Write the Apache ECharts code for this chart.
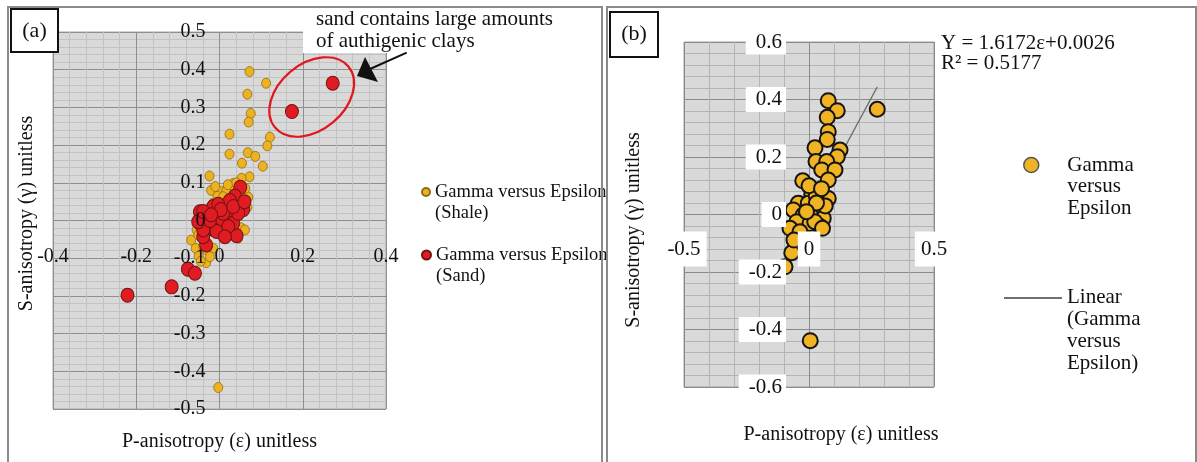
<!DOCTYPE html>
<html><head><meta charset="utf-8">
<script src="https://cdn.jsdelivr.net/npm/echarts@6/dist/echarts.min.js"></script>
<style>html,body{margin:0;padding:0;background:#fff}#c{width:1197px;height:462px}</style>
</head><body><div id="c"></div>
<script>
// ---- Panel (a) data ----
const shaleEps = [0.072,0.112,0.067,0.075,0.070,0.024,0.121,0.115,0.024,0.068,0.086,0.054,0.104,-0.024,0.072,0.053,0.069,-0.020,0.033,0.029,0.005,-0.005,0.016,0.051,-0.068,-0.057,-0.050,-0.032,-0.045,-0.003,0.033,0.045,-0.015,-0.055,-0.039,0.067,-0.015,0.045,0.061,0.009,0.040,0.062,-0.010,0.020,-0.051,-0.031,-0.023];
const shaleGam = [0.395,0.364,0.335,0.284,0.261,0.229,0.221,0.198,0.176,0.180,0.170,0.152,0.144,0.118,0.116,0.112,0.062,0.080,0.098,0.088,0.077,0.064,0.077,-0.019,-0.052,-0.074,-0.095,-0.112,-0.108,-0.443,0.061,0.053,0.046,-0.025,-0.068,0.035,-0.074,-0.047,-0.025,0.063,0.100,0.085,0.090,0.095,-0.038,-0.078,-0.096];
const sandEps = [0.272,0.174,0.050,-0.221,-0.115,-0.076,-0.059,-0.032,-0.047,-0.003,0.025,0.045,0.057,0.037,0.025,-0.015,-0.027,0.017,0.041,-0.047,-0.015,-0.003,0.033,0.009,-0.039,0.045,0.021,-0.039,-0.007,0.013,0.033,0.003,-0.023,-0.051,-0.039,-0.020,0.060];
const sandGam = [0.364,0.289,0.088,-0.198,-0.176,-0.129,-0.140,-0.065,0.023,0.001,0.010,0.037,0.029,0.065,0.053,0.037,-0.016,-0.034,-0.040,-0.007,-0.023,0.043,-0.007,0.019,-0.043,0.019,-0.016,-0.025,-0.029,-0.043,0.037,0.029,0.000,-0.003,0.024,0.015,0.050];
// ---- Panel (b) data ----
const bEps = [0.077,0.113,0.273,0.073,0.077,0.073,0.024,0.124,0.113,0.028,0.071,0.051,0.104,-0.025,0.077,0.024,0.011,0.077,-0.043,-0.003,0.037,-0.063,-0.023,0.011,0.057,-0.049,0.004,0.044,-0.076,-0.036,-0.056,-0.069,-0.096,0.005,0.023,0.054,-0.060,0.029,0.000,0.050,0.065,0.030,-0.010];
const bGam = [0.396,0.361,0.366,0.338,0.288,0.261,0.232,0.224,0.201,0.184,0.184,0.155,0.155,0.117,0.120,0.085,0.068,0.056,0.039,0.039,0.021,0.016,-0.002,-0.008,-0.013,-0.025,-0.031,-0.042,-0.048,-0.060,-0.095,-0.133,-0.182,-0.439,-0.025,-0.048,-0.089,0.065,0.100,0.090,0.030,0.040,0.010];
// trendline (from the chart's fitted equation)
const trendSlope = 1.6172;
const trendIntercept = 0.0026;
const equationLines = ['Y = 1.6172ε+0.0026', 'R² = 0.5177'];
const annotationLines = ['sand contains large amounts', 'of authigenic clays'];
const nameShale = 'Gamma versus Epsilon (Shale)';
const nameSand = 'Gamma versus Epsilon (Sand)';
const nameB = 'Gamma versus Epsilon';
const nameLin = 'Linear (Gamma versus Epsilon)';
const legendLinesShale = ['Gamma versus Epsilon', '(Shale)'];
const legendLinesSand = ['Gamma versus Epsilon', '(Sand)'];
const legendLinesB = ['Gamma', 'versus', 'Epsilon'];
const legendLinesLin = ['Linear', '(Gamma', 'versus', 'Epsilon)'];
const xTitle = 'P-anisotropy (ε) unitless';
const yTitle = 'S-anisotropy (γ) unitless';

const FF = '"Liberation Serif", "Times New Roman", serif';
const TXT = '#111';
const zip = (a, b) => a.map((v, i) => [v, b[i]]);
const tx0 = Math.min(...bEps), tx1 = Math.max(...bEps);
const trendData = [[tx0, trendSlope * tx0 + trendIntercept], [tx1, trendSlope * tx1 + trendIntercept]];
// pad with blank lines above so the first text line sits level with the legend icon
const topAligned = lines => Array(lines.length - 1).fill(' ').concat(lines).join('\n');

const scaleA = { x: { min: -0.4, max: 0.4, interval: 0.2 }, y: { min: -0.5, max: 0.5, interval: 0.1 } };
const scaleB = { x: { min: -0.5, max: 0.5, interval: 0.5 }, y: { min: -0.6, max: 0.6, interval: 0.2 } };

function axisBase(o) {
  return Object.assign({
    type: 'value',
    axisLine: { show: false, onZero: false },
    axisTick: { show: false },
    minorTick: { show: false, splitNumber: 5 },
    nameLocation: 'middle',
  }, o);
}
// grid-line axes (behind the marks)
function gridAxis(gridIndex, sc, position, major, minor) {
  return axisBase(Object.assign({ gridIndex, position, axisLabel: { show: false },
    splitLine: { show: true, lineStyle: { color: major, width: 1 } },
    minorSplitLine: { show: true, lineStyle: { color: minor, width: 1 } }, z: 0 }, sc));
}
// label axes (drawn above the marks, like the original)
function labelAxis(gridIndex, sc, position, offset, label, name) {
  return axisBase(Object.assign({ gridIndex, position, offset, axisLabel: label,
    splitLine: { show: false }, minorSplitLine: { show: false }, z: 10 }, name, sc));
}

const chart = echarts.init(document.getElementById('c'), null, { renderer: 'canvas' });
chart.setOption({
  animation: false,
  backgroundColor: '#fff',
  grid: [
    { left: 53, top: 32, width: 333, height: 377, show: true, backgroundColor: '#d9d9d9', borderColor: '#a8a8a8', borderWidth: 1, containLabel: false, outerBoundsMode: 'none' },
    { left: 684, top: 42, width: 250, height: 345, show: true, backgroundColor: '#d9d9d9', borderColor: '#a0a0a0', borderWidth: 1, containLabel: false, outerBoundsMode: 'none' }
  ],
  xAxis: [
    gridAxis(0, scaleA.x, 'bottom', '#8e8e8e', '#c2c2c2'),
    gridAxis(1, scaleB.x, 'bottom', '#8a8a8a', '#b4b4b4'),
    labelAxis(0, scaleA.x, 'bottom', -188.5,
      { margin: 26, fontSize: 20, color: TXT, fontFamily: FF },
      { name: xTitle, nameGap: 211, nameTextStyle: { fontSize: 20, color: TXT, fontFamily: FF } }),
    labelAxis(1, scaleB.x, 'bottom', -172.5,
      { margin: 17, fontSize: 21, color: TXT, fontFamily: FF, backgroundColor: '#fff', padding: [7, 6, 7, 6] },
      { name: xTitle, nameGap: 210, nameTextStyle: { fontSize: 20, color: TXT, fontFamily: FF, padding: [0, 0, 0, 64] } })
  ],
  yAxis: [
    gridAxis(0, scaleA.y, 'left', '#8e8e8e', '#c2c2c2'),
    gridAxis(1, scaleB.y, 'left', '#8a8a8a', '#b4b4b4'),
    labelAxis(0, scaleA.y, 'left', -166.5,
      { margin: 14, fontSize: 20, color: TXT, fontFamily: FF },
      { name: yTitle, nameGap: 183, nameTextStyle: { fontSize: 20, color: TXT, fontFamily: FF, padding: [0, 0, 0, 14] } }),
    labelAxis(1, scaleB.y, 'left', -125,
      { margin: 23, fontSize: 21, color: TXT, fontFamily: FF, backgroundColor: '#fff', padding: [2, 4, 2, 10] },
      { name: yTitle, nameGap: 165, nameTextStyle: { fontSize: 20, color: TXT, fontFamily: FF, padding: [0, 31, 0, 0] } })
  ],
  legend: [
    { data: [nameShale], left: 421, top: 160.5, padding: 0, selectedMode: false, itemWidth: 8, itemHeight: 10, symbolKeepAspect: false,
      formatter: () => topAligned(legendLinesShale),
      textStyle: { fontFamily: FF, fontSize: 18.5, lineHeight: 21, color: TXT } },
    { data: [nameSand], left: 421, top: 223.5, padding: 0, selectedMode: false, itemWidth: 9, itemHeight: 12, symbolKeepAspect: false,
      formatter: () => topAligned(legendLinesSand),
      textStyle: { fontFamily: FF, fontSize: 18.5, lineHeight: 21, color: TXT } },
    { data: [nameB], left: 1023, top: 110.75, padding: 0, selectedMode: false, itemWidth: 62, itemHeight: 15,
      itemStyle: { borderColor: '#555', borderWidth: 1.5 },
      formatter: () => topAligned(legendLinesB),
      textStyle: { fontFamily: FF, fontSize: 21, lineHeight: 21.7, color: TXT } },
    { data: [nameLin], left: 1003, top: 222, padding: 0, selectedMode: false, itemWidth: 58, itemHeight: 14,
      itemStyle: { opacity: 0 },
      formatter: () => topAligned(legendLinesLin),
      textStyle: { fontFamily: FF, fontSize: 21, lineHeight: 21.7, color: TXT } }
  ],
  series: [
    { name: nameShale, type: 'scatter', xAxisIndex: 0, yAxisIndex: 0, data: zip(shaleEps, shaleGam), symbolSize: [9, 10],
      itemStyle: { color: '#EDB221', borderColor: '#8f6d12', borderWidth: 0.8, opacity: 1 } },
    { name: nameSand, type: 'scatter', xAxisIndex: 0, yAxisIndex: 0, data: zip(sandEps, sandGam), symbolSize: [13, 14],
      itemStyle: { color: '#E11B22', borderColor: '#6e1414', borderWidth: 1, opacity: 1 } },
    { name: nameLin, type: 'line', xAxisIndex: 1, yAxisIndex: 1, data: trendData, symbol: 'none', showSymbol: false,
      itemStyle: { color: '#707070' },
      lineStyle: { color: '#707070', width: 1.3 }, z: 1 },
    { name: nameB, type: 'scatter', xAxisIndex: 1, yAxisIndex: 1, data: zip(bEps, bGam), symbolSize: 15,
      itemStyle: { color: '#F0B323', borderColor: '#151515', borderWidth: 2, opacity: 1 }, z: 3 }
  ],
  graphic: [
    { type: 'rect', z: 50, shape: { x: 8, y: 7, width: 594, height: 470 }, style: { fill: 'none', stroke: '#8a8a8a', lineWidth: 2 } },
    { type: 'rect', z: 50, shape: { x: 607, y: 7, width: 589, height: 470 }, style: { fill: 'none', stroke: '#8a8a8a', lineWidth: 2 } },
    { type: 'rect', z: 60, shape: { x: 11, y: 9, width: 47, height: 43 }, style: { fill: '#fff', stroke: '#111', lineWidth: 2 } },
    { type: 'text', z: 61, x: 34.5, y: 31, style: { text: '(a)', font: '22px ' + FF, fill: TXT, align: 'center', verticalAlign: 'middle' } },
    { type: 'rect', z: 60, shape: { x: 610, y: 12, width: 48, height: 45 }, style: { fill: '#fff', stroke: '#111', lineWidth: 2 } },
    { type: 'text', z: 61, x: 634, y: 34, style: { text: '(b)', font: '22px ' + FF, fill: TXT, align: 'center', verticalAlign: 'middle' } },
    { type: 'rect', z: 60, shape: { x: 303, y: 9, width: 257, height: 44 }, style: { fill: '#fff' } },
    { type: 'text', z: 61, x: 316, y: 19, style: { text: annotationLines[0], font: '21px ' + FF, fill: TXT, align: 'left', verticalAlign: 'middle' } },
    { type: 'text', z: 61, x: 316, y: 41, style: { text: annotationLines[1], font: '21px ' + FF, fill: TXT, align: 'left', verticalAlign: 'middle' } },
    { type: 'ellipse', z: 62, x: 311.7, y: 97, rotation: 39.8 * Math.PI / 180, shape: { cx: 0, cy: 0, rx: 47.7, ry: 33.1 }, style: { fill: 'none', stroke: '#E0191E', lineWidth: 2.2 } },
    { type: 'line', z: 62, shape: { x1: 406.7, y1: 52.7, x2: 370, y2: 69 }, style: { stroke: '#111', lineWidth: 2 } },
    { type: 'polygon', z: 62, shape: { points: [[357, 76], [365, 57], [378, 82]] }, style: { fill: '#111' } },
    { type: 'text', z: 61, x: 941, y: 43, style: { text: equationLines[0], font: '21px ' + FF, fill: TXT, align: 'left', verticalAlign: 'middle' } },
    { type: 'text', z: 61, x: 941, y: 63.5, style: { text: equationLines[1], font: '21px ' + FF, fill: TXT, align: 'left', verticalAlign: 'middle' } }
  ]
});
</script></body></html>
